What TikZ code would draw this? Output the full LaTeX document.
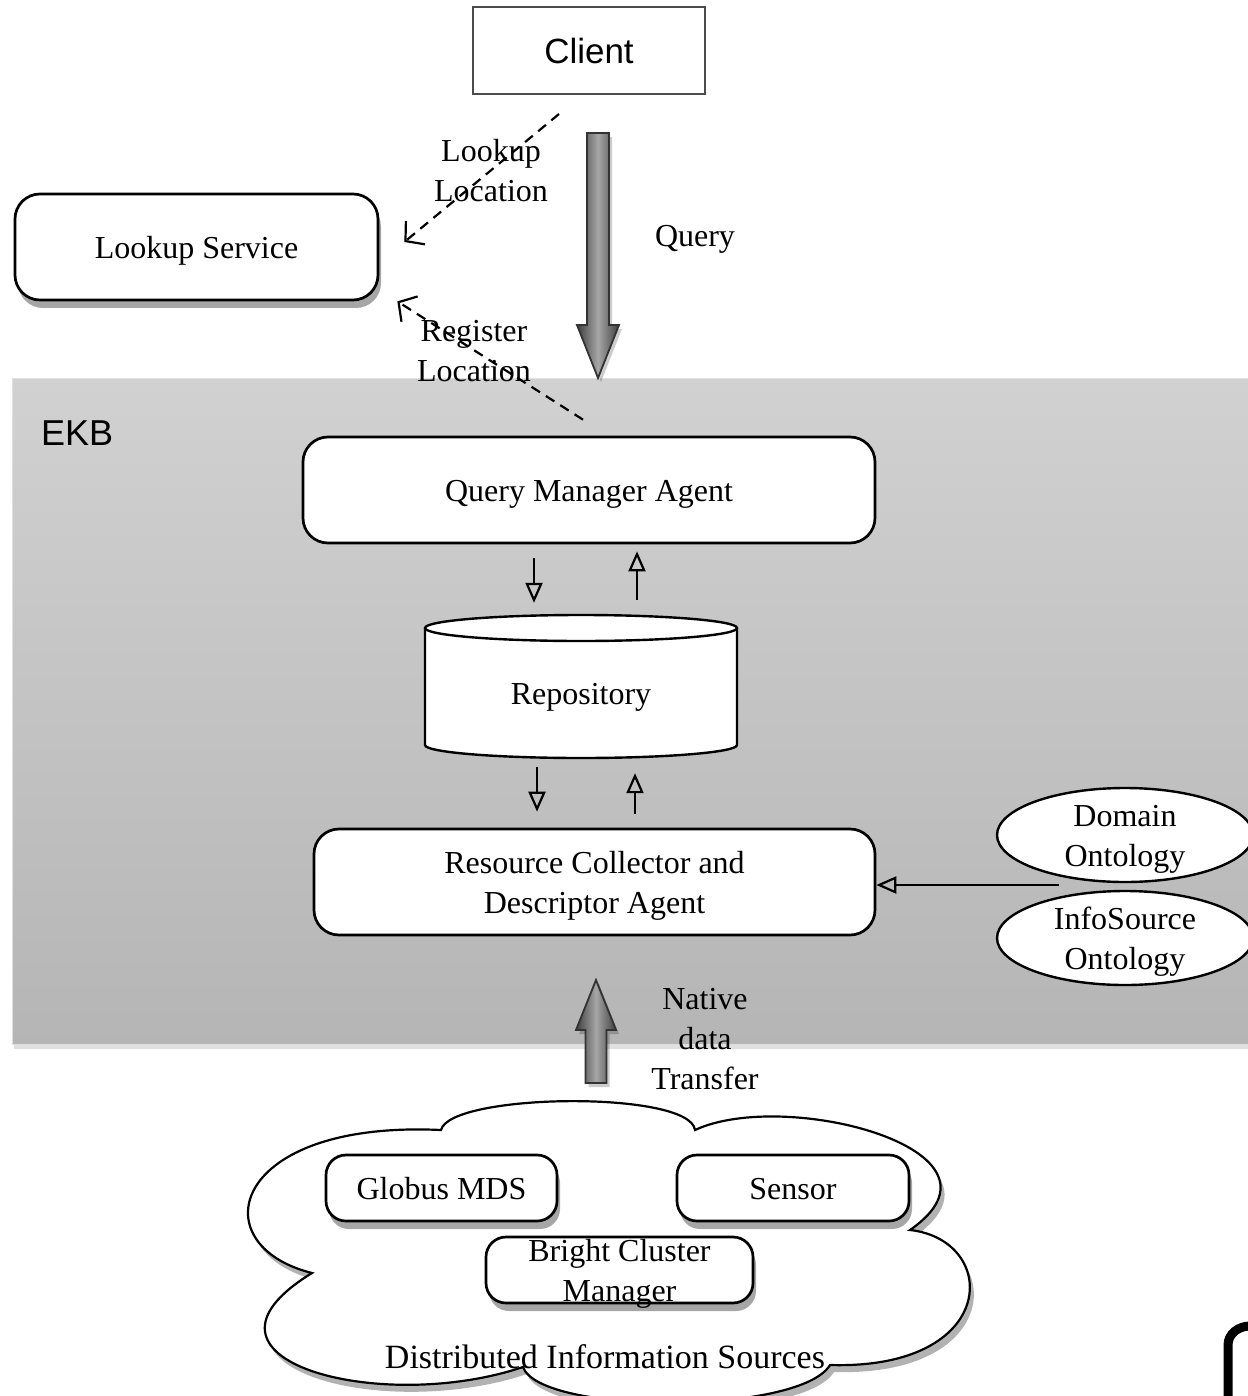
\documentclass[tikz,border=0pt]{standalone}
\usepackage{fontspec}
\setmainfont{Liberation Serif}
\newfontfamily\sansfam{Liberation Sans}
\usetikzlibrary{arrows.meta,shadows,calc,shapes.geometric}
\newcommand\mytxt{\fontsize{32}{40}\selectfont}
\newcommand\bx[1]{\raisebox{-3.5pt}[\height][\depth]{\begin{tabular}{@{}c@{}}#1\end{tabular}}}
\begin{document}
\begin{tikzpicture}[x=1pt,y=-1pt,
  box/.style={draw, line width=2.7pt, rounded corners=22pt, fill=white, align=center, font=\mytxt, inner sep=0pt},
  shad/.style={drop shadow={shadow xshift=3pt, shadow yshift=-8pt, opacity=0.35, fill=black}},
  lbl/.style={align=center, font=\mytxt, inner sep=0pt},
  dsh/.style={line width=2.2pt, dash pattern=on 10pt off 7pt, -{Straight Barb[length=13pt,width=30pt,line width=2.2pt]}},
  tri/.style={line width=2.4pt, -{Triangle[open,length=20pt,width=17pt,line width=2.2pt]}},
  bigarrow/.style={draw=black!80, line width=1.8pt, left color=black!75, right color=black!75, middle color=black!35},
  ont/.style={ellipse, draw, line width=2.4pt, fill=white, minimum width=256pt, minimum height=94pt, inner xsep=0pt, inner ysep=-14pt, align=center, font=\mytxt}
]
\useasboundingbox (0,0) rectangle (1247,1396);

% EKB background
\path[drop shadow={shadow xshift=2pt, shadow yshift=-5pt, opacity=0.12, fill=black}, top color=black!18, bottom color=black!29, draw=black!12, line width=0.8pt]
  (12,378) rectangle (1262,1044);
\node[anchor=west, font=\sansfam\fontsize{36}{40}\selectfont, inner sep=0pt] (ekb) at (41,433) {EKB};

% Client
\node[draw=black!70, line width=2pt, minimum width=232pt, minimum height=87pt, inner sep=0pt, font=\sansfam\fontsize{35}{40}\selectfont] (client) at (589,50.5) {Client};

% Lookup service
\node[box, shad, minimum width=363pt, minimum height=106pt, rounded corners=25pt] (ls) at (196.5,247) {\bx{Lookup Service}};

% Query arrow
\path[bigarrow, drop shadow={shadow xshift=3pt, shadow yshift=-4pt, opacity=0.2, fill=black}]
  (587,133) -- (609,133) -- (609,325) -- (619,325) -- (598,378) -- (577,325) -- (587,325) -- cycle;
\node[lbl] (qlbl) at (695,235) {\bx{Query}};

% QMA
\node[box, minimum width=572pt, minimum height=106pt, rounded corners=25pt] (qma) at (589,490) {\bx{Query Manager Agent}};

% dashed arrows
\coordinate (lkA) at ($(client.south)+(-30,19)$);
\coordinate (lkB) at ($(ls.east)+(25,-5)$);
\coordinate (rgA) at ($(qma.north)+(-6,-16)$);
\coordinate (rgB) at ($(ls.south east)+(18,0)$);
\draw[dsh] (lkA) -- (lkB);
\draw[dsh] (rgA) -- (rgB);
\node[lbl] (lklbl) at (491,170) {\bx{Lookup\\Location}};
\node[lbl] (rglbl) at (474,350) {\bx{Register\\Location}};

% Repository cylinder
\draw[line width=2.4pt, fill=white] (425,628) -- (425,745) arc[start angle=180, end angle=0, x radius=156, y radius=13] -- (737,628);
\draw[line width=2.4pt, fill=white] (581,628) ellipse [x radius=156, y radius=13];
\node[lbl, minimum width=312pt, minimum height=143pt] (repo) at (581,686.5) {};
\node[lbl] (repotxt) at (581,693) {\bx{Repository}};

% RCDA
\node[box, minimum width=561pt, minimum height=106pt, rounded corners=25pt] (rcda) at (594.5,882) {\bx{Resource Collector and\\Descriptor Agent}};

% small arrows
\draw[tri] ($(qma.south)+(-55,14)$) -- ($(repo.north)+(-47,-12)$);
\draw[tri] ($(repo.north)+(56,-15)$) -- ($(qma.south)+(48,7)$);
\draw[tri] ($(repo.south)+(-44,9)$) -- ($(rcda.north)+(-57.5,-16)$);
\draw[tri] ($(rcda.north)+(40.5,-14)$) -- ($(repo.south)+(54,15)$);

% ontologies
\node[ont] (dom) at (1125,835) {\bx{Domain\\Ontology}};
\node[ont] (info) at (1125,938) {\bx{InfoSource\\Ontology}};
\coordinate (ontsrc) at (1059,885);
\draw[tri] (ontsrc) -- (rcda.east |- ontsrc);

% Native data transfer arrow
\path[bigarrow, drop shadow={shadow xshift=3pt, shadow yshift=-4pt, opacity=0.2, fill=black}]
  (585.5,1083) -- (606.5,1083) -- (606.5,1030) -- (616,1030) -- (596,980) -- (576,1030) -- (585.5,1030) -- cycle;
\node[lbl] (ndt) at (705,1038) {\bx{Native\\data\\Transfer}};

% cloud
\path[draw, line width=2.2pt, fill=white, drop shadow={shadow xshift=4pt, shadow yshift=-7pt, opacity=0.3, fill=black}]
  (441,1130) .. controls (450,1093) and (690,1090) .. (695,1130)
  .. controls (785,1088) and (1025,1150) .. (910,1230)
  .. controls (1000,1240) and (1000,1370) .. (830,1365)
  .. controls (800,1415) and (540,1415) .. (523,1367)
  .. controls (380,1415) and (170,1360) .. (312,1273)
  .. controls (200,1245) and (230,1120) .. (441,1130) -- cycle;

\node[box, shad, minimum width=231pt, minimum height=66pt, rounded corners=20pt] (globus) at (441.5,1188) {\bx{Globus MDS}};
\node[box, shad, minimum width=232pt, minimum height=66pt, rounded corners=20pt] (sensor) at (793,1188) {\bx{Sensor}};
\node[box, shad, minimum width=267pt, minimum height=66pt, rounded corners=20pt, inner ysep=-10pt] (bright) at (619.5,1270) {\bx{Bright Cluster\\Manager}};
\node[lbl, font=\fontsize{34}{40}\selectfont] (dis) at (605,1357) {\bx{Distributed Information Sources}};

% cropped corner fragment
\draw[line width=9pt] (1228,1400) -- (1228,1345) to[out=90,in=180] (1250,1326);
\end{tikzpicture}
\end{document}
